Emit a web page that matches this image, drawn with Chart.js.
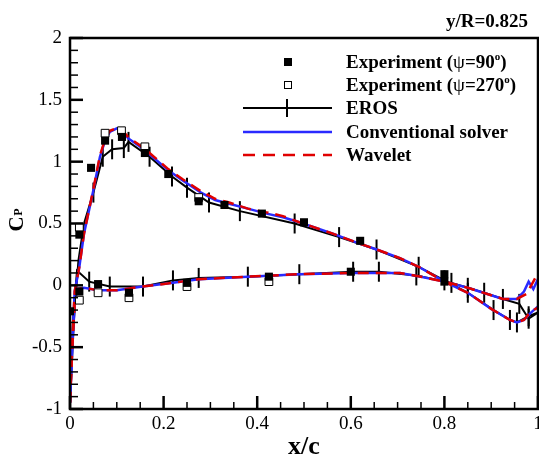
<!DOCTYPE html>
<html>
<head>
<meta charset="utf-8">
<script src="https://cdn.jsdelivr.net/npm/chart.js@4/dist/chart.umd.min.js"></script>
<style>
  html, body { margin: 0; padding: 0; background: #fff; }
  canvas { display: block; }
</style>
</head>
<body>
<canvas id="cpChart" width="539" height="456"></canvas>
<script>
// Experiment psi=90 (filled squares)
const exp90X = [0.0, 0.02, 0.045, 0.075, 0.111, 0.16, 0.21, 0.275, 0.33, 0.41, 0.50, 0.62, 0.80,
                0.02, 0.06, 0.126, 0.25, 0.425, 0.60, 0.80];
const exp90Y = [-0.21, 0.41, 0.95, 1.17, 1.20, 1.07, 0.90, 0.68, 0.65, 0.58, 0.51, 0.36, 0.09,
                -0.05, 0.01, -0.06, 0.02, 0.07, 0.11, 0.03];
// Experiment psi=270 (open squares)
const exp270X = [0.02, 0.075, 0.11, 0.16, 0.275, 0.02, 0.06, 0.126, 0.25, 0.425];
const exp270Y = [0.47, 1.23, 1.25, 1.12, 0.71, -0.12, -0.06, -0.10, -0.01, 0.03];

// EROS
const erosUpX = [0, 0.008, 0.018, 0.03, 0.05, 0.07, 0.09, 0.115, 0.125, 0.17, 0.218, 0.25, 0.297,
                 0.363, 0.48, 0.575, 0.655, 0.745, 0.8, 0.85, 0.905, 0.94, 0.955, 0.98, 1.0];
const erosUpY = [-0.95, -0.3, 0.2, 0.5, 0.75, 1.04, 1.10, 1.11, 1.16, 1.04, 0.88, 0.79, 0.67,
                 0.60, 0.50, 0.39, 0.29, 0.15, 0.04, -0.06, -0.20, -0.28, -0.30, -0.25, -0.22];
const erosLoX = [0, 0.006, 0.015, 0.041, 0.085, 0.156, 0.22, 0.275, 0.38, 0.49, 0.605, 0.66,
                 0.74, 0.815, 0.85, 0.885, 0.925, 0.96, 0.98, 1.0];
const erosLoY = [-0.95, -0.3, 0.12, 0.03, -0.01, -0.01, 0.04, 0.06, 0.07, 0.09, 0.11, 0.11,
                 0.08, 0.02, -0.02, -0.06, -0.11, -0.15, -0.27, -0.22];

// Conventional solver
const convUpX = [0, 0.005, 0.01, 0.02, 0.03, 0.05, 0.064, 0.075, 0.085, 0.1, 0.11, 0.124, 0.15,
                 0.17, 0.21, 0.24, 0.28, 0.31, 0.34, 0.38, 0.42, 0.455, 0.49, 0.56, 0.61, 0.655,
                 0.705, 0.745, 0.8, 0.85, 0.9, 0.94, 0.955, 0.97, 0.985, 1.0];
const convUpY = [-0.95, -0.45, -0.05, 0.15, 0.42, 0.77, 1.04, 1.17, 1.24, 1.27, 1.26, 1.19, 1.12,
                 1.06, 0.93, 0.85, 0.75, 0.69, 0.66, 0.62, 0.58, 0.55, 0.51, 0.42, 0.35, 0.29,
                 0.22, 0.15, 0.03, -0.06, -0.19, -0.28, -0.30, -0.28, -0.22, -0.17];
const convLoX = [0, 0.005, 0.01, 0.015, 0.03, 0.06, 0.1, 0.155, 0.22, 0.275, 0.38, 0.49, 0.6,
                 0.66, 0.705, 0.75, 0.8, 0.85, 0.9, 0.925, 0.955, 0.97, 0.98, 0.99, 1.0];
const convLoY = [-0.95, -0.5, -0.15, -0.03, -0.02, -0.04, -0.04, -0.01, 0.02, 0.05, 0.07, 0.09, 0.10,
                 0.10, 0.10, 0.07, 0.03, -0.02, -0.08, -0.11, -0.11, -0.05, 0.03, -0.03, 0.05];

// Wavelet
const waveUpX = [0, 0.005, 0.01, 0.02, 0.03, 0.05, 0.064, 0.075, 0.085, 0.1, 0.11, 0.124, 0.15,
                 0.17, 0.21, 0.24, 0.28, 0.31, 0.34, 0.38, 0.42, 0.455, 0.49, 0.56, 0.61, 0.655,
                 0.705, 0.745, 0.8, 0.85, 0.9, 0.94, 0.955, 0.97, 0.985, 1.0];
const waveUpY = [-0.95, -0.45, -0.05, 0.15, 0.42, 0.78, 1.05, 1.18, 1.25, 1.27, 1.26, 1.20, 1.13,
                 1.07, 0.94, 0.86, 0.76, 0.70, 0.67, 0.62, 0.59, 0.56, 0.51, 0.42, 0.35, 0.29,
                 0.22, 0.15, 0.03, -0.06, -0.19, -0.28, -0.30, -0.28, -0.21, -0.18];
const waveLoX = [0, 0.005, 0.01, 0.015, 0.03, 0.06, 0.1, 0.155, 0.22, 0.275, 0.38, 0.49, 0.6,
                 0.66, 0.705, 0.75, 0.8, 0.85, 0.9, 0.925, 0.955, 0.975, 0.99, 1.0];
const waveLoY = [-0.95, -0.5, -0.15, -0.03, -0.02, -0.04, -0.04, -0.01, 0.02, 0.05, 0.07, 0.09, 0.10,
                 0.10, 0.10, 0.07, 0.03, -0.02, -0.08, -0.11, -0.11, -0.07, 0.03, 0.10];

const legendLabels = ['Experiment (\u03c8=90', 'Experiment (\u03c8=270', 'EROS', 'Conventional solver', 'Wavelet'];
const sectionLabel = 'y/R=0.825';
const xTitle = 'x/c';

const serif = '"Liberation Serif", "Times New Roman", serif';
Chart.defaults.font.family = serif;
Chart.defaults.color = '#000';

function pts(xs, ys) { return xs.map((x, i) => ({ x: x, y: ys[i] })); }

function erosRadius(ctx) {
  return ctx.raw && ctx.raw.x < 0.035 ? 0 : 10;
}

function line(data, color, width, dash, order) {
  return {
    data: data, showLine: true, borderColor: color, borderWidth: width,
    borderDash: dash, pointRadius: 0, fill: false, order: order
  };
}

// plain tick text: 0, 0.2, 1, -0.5 ...
function tickText(v) { return String(Math.round(v * 10) / 10); }

const decor = {
  id: 'decor',
  afterDraw(chart) {
    const ctx = chart.ctx, a = chart.chartArea, xs = chart.scales.x, ys = chart.scales.y;
    ctx.save();
    ctx.strokeStyle = '#000';
    // inward ticks
    for (let i = 0; i <= 20; i++) {
      const major = i % 4 === 0;
      const px = xs.getPixelForValue(i * 0.05);
      ctx.lineWidth = major ? 2.5 : 1.5;
      ctx.beginPath();
      ctx.moveTo(px, a.bottom);
      ctx.lineTo(px, a.bottom - (major ? 13 : 7));
      ctx.stroke();
    }
    for (let i = -10; i <= 20; i++) {
      const major = i % 5 === 0;
      const py = ys.getPixelForValue(i * 0.1);
      ctx.lineWidth = major ? 2.5 : 1.5;
      ctx.beginPath();
      ctx.moveTo(a.left, py);
      ctx.lineTo(a.left + (major ? 13 : 8), py);
      ctx.stroke();
    }
    // frame
    ctx.lineWidth = 2.5;
    ctx.strokeRect(a.left, a.top, a.right - a.left, a.bottom - a.top);

    // section label
    ctx.fillStyle = '#000';
    ctx.font = 'bold 19px ' + serif;
    ctx.textAlign = 'right';
    ctx.textBaseline = 'alphabetic';
    ctx.fillText(sectionLabel, 528, 27);

    // x title
    ctx.font = 'bold 26px ' + serif;
    ctx.textAlign = 'center';
    ctx.fillText(xTitle, (a.left + a.right) / 2, 454);

    // y title C_P (rotated)
    ctx.save();
    ctx.translate(17.5, 224);
    ctx.rotate(-Math.PI / 2);
    ctx.textBaseline = 'middle';
    ctx.font = 'bold 21px ' + serif;
    ctx.fillText('C', 0, 0);
    ctx.font = 'bold 12px ' + serif;
    ctx.fillText('P', 12, 1);
    ctx.restore();

    // legend
    const rowsY = [62, 85, 108, 132, 155];
    const textX = 346;
    ctx.textAlign = 'left';
    ctx.textBaseline = 'middle';
    legendLabels.forEach((lab, i) => {
      const yy = rowsY[i];
      if (i < 2) {
        let x = textX;
        const parts = lab.split('\u03c8');
        ctx.font = 'bold 19px ' + serif;
        ctx.fillText(parts[0], x, yy + 1); x += ctx.measureText(parts[0]).width;
        ctx.font = '19px ' + serif;
        ctx.fillText('\u03c8', x, yy + 1); x += ctx.measureText('\u03c8').width;
        ctx.font = 'bold 19px ' + serif;
        ctx.fillText(parts[1], x, yy + 1); x += ctx.measureText(parts[1]).width;
        ctx.font = 'bold 11px ' + serif;
        ctx.fillText('o', x, yy - 5); x += ctx.measureText('o').width;
        ctx.font = 'bold 19px ' + serif;
        ctx.fillText(')', x, yy + 1);
      } else {
        ctx.font = 'bold 19px ' + serif;
        ctx.fillText(lab, textX, yy + 1);
      }
    });
    // legend symbols
    ctx.fillStyle = '#000';
    ctx.fillRect(284, rowsY[0] - 4, 8, 8);
    ctx.lineWidth = 1;
    ctx.strokeRect(284.5, rowsY[1] - 3.5, 7, 7);
    ctx.lineWidth = 2;
    ctx.beginPath(); ctx.moveTo(243, rowsY[2]); ctx.lineTo(332, rowsY[2]); ctx.stroke();
    ctx.beginPath(); ctx.moveTo(287, rowsY[2] - 9); ctx.lineTo(287, rowsY[2] + 9); ctx.stroke();
    ctx.strokeStyle = '#2a2aff'; ctx.lineWidth = 2.5;
    ctx.beginPath(); ctx.moveTo(243, rowsY[3]); ctx.lineTo(332, rowsY[3]); ctx.stroke();
    ctx.strokeStyle = '#e00000';
    ctx.setLineDash([12, 8]);
    ctx.beginPath(); ctx.moveTo(243, rowsY[4]); ctx.lineTo(332, rowsY[4]); ctx.stroke();
    ctx.restore();
  }
};

new Chart(document.getElementById('cpChart'), {
  type: 'scatter',
  data: {
    datasets: [
      { data: pts(exp90X, exp90Y), pointStyle: 'rect', pointRadius: 5.7, backgroundColor: '#000',
        borderColor: '#000', borderWidth: 0, showLine: false, order: 0 },
      { data: pts(exp270X, exp270Y), pointStyle: 'rect', pointRadius: 5.5, backgroundColor: '#fff',
        borderColor: '#000', borderWidth: 1, showLine: false, order: 0.5 },
      line(pts(waveUpX, waveUpY), '#e00000', 2.5, [11, 7], 1),
      line(pts(waveLoX, waveLoY), '#e00000', 2.5, [11, 7], 1),
      line(pts(convUpX, convUpY), '#2a2aff', 2.5, [], 2),
      line(pts(convLoX, convLoY), '#2a2aff', 2.5, [], 2),
      { data: pts(erosUpX, erosUpY), showLine: true, borderColor: '#000', borderWidth: 2,
        pointStyle: 'line', rotation: 90, pointRadius: erosRadius, pointBorderWidth: 2, order: 3 },
      { data: pts(erosLoX, erosLoY), showLine: true, borderColor: '#000', borderWidth: 2,
        pointStyle: 'line', rotation: 90, pointRadius: erosRadius, pointBorderWidth: 2, order: 3 }
    ]
  },
  options: {
    responsive: false,
    animation: false,
    devicePixelRatio: 1,
    layout: { autoPadding: false, padding: { left: 0, top: 38, right: 1, bottom: 0 } },
    plugins: { legend: { display: false }, tooltip: { enabled: false } },
    scales: {
      x: {
        type: 'linear', min: 0, max: 1,
        grid: { display: false, drawTicks: false },
        border: { display: false },
        ticks: { stepSize: 0.2, maxRotation: 0, autoSkip: false, padding: 4,
                 font: { size: 19 }, color: '#000', callback: tickText },
        afterFit: s => { s.height = 47; s.paddingLeft = 0; s.paddingRight = 0; }
      },
      y: {
        type: 'linear', min: -1, max: 2,
        grid: { display: false, drawTicks: false },
        border: { display: false },
        ticks: { stepSize: 0.5, autoSkip: false, padding: 8, font: { size: 19 }, color: '#000',
                 callback: tickText },
        afterFit: s => { s.width = 70; s.paddingTop = 0; s.paddingBottom = 0; }
      }
    }
  },
  plugins: [decor]
});
</script>
</body>
</html>
